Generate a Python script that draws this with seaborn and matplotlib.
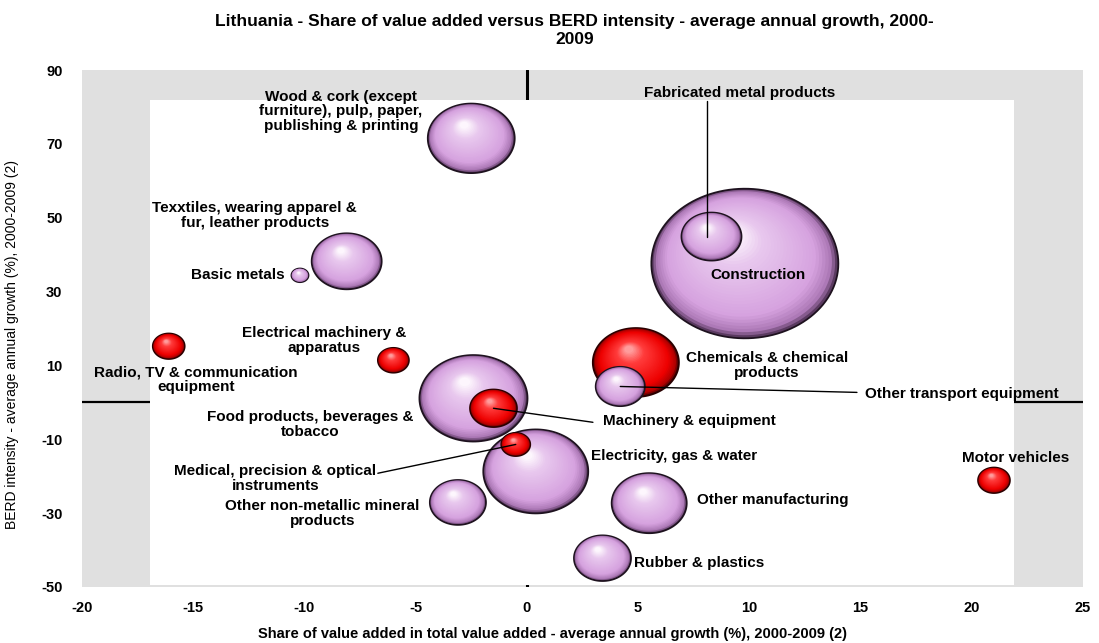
import numpy as np
import pandas as pd
import matplotlib.pyplot as plt
import seaborn as sns
from matplotlib.path import Path
from matplotlib.patches import Rectangle
from matplotlib.colors import to_rgb, to_hex

# data
sectors = ["Construction", "Food products, beverages & tobacco", "Electricity, gas & water",
           "Wood & cork (except furniture), pulp, paper, publishing & printing",
           "Chemicals & chemical products", "Other manufacturing",
           "Texxtiles, wearing apparel & fur, leather products", "Fabricated metal products",
           "Rubber & plastics", "Other non-metallic mineral products",
           "Other transport equipment", "Machinery & equipment",
           "Radio, TV & communication equipment", "Motor vehicles",
           "Electrical machinery & apparatus", "Medical, precision & optical instruments",
           "Basic metals"]
va_growth = [9.8, -2.4, 0.4, -2.5, 4.9, 5.5, -8.1, 8.3, 3.4, -3.1, 4.2, -1.5, -16.1, 21.0, -6.0, -0.5, -10.2]
berd_growth = [37.6, 1.1, -18.7, 71.5, 10.8, -27.3, 38.2, 44.9, -42.2, -27.1, 4.3, -1.6, 15.2, -21.1, 11.4, -11.4, 34.4]
bubble_size = [100, 33.4, 31.5, 21.6, 21.2, 16.1, 14.0, 10.3, 9.3, 9.0, 6.9, 6.3, 2.9, 2.9, 2.75, 2.4, 0.83]
group = ["other", "other", "other", "other", "tech", "other", "other", "other", "other", "other",
         "other", "tech", "tech", "tech", "tech", "tech", "other"]

df = pd.DataFrame({"sector": sectors, "x": va_growth, "y": berd_growth,
                   "v": bubble_size, "group": group})

sns.set_style("white")
plt.rcParams['font.family'] = ['Liberation Sans', 'DejaVu Sans']
plt.rcParams['text.color'] = 'black'
plt.rcParams['axes.labelcolor'] = 'black'
plt.rcParams['xtick.color'] = 'black'
plt.rcParams['ytick.color'] = 'black'
plt.rcParams['axes.unicode_minus'] = False

fig = plt.figure(figsize=(10.99, 6.43), dpi=100)
ax = fig.add_axes([0.0746, 0.0871, 0.9108, 0.804])
ax.set_xlim(-20, 25)
ax.set_ylim(-50, 90)
ax.set_facecolor("#e0e0e0")
for s in ax.spines.values():
    s.set_visible(False)

# axis lines sit behind the white plot area
ax.axhline(0, color="black", lw=1.6, zorder=0.3)
ax.axvline(0, color="black", lw=2.2, zorder=0.3)
ax.add_patch(Rectangle((-16.95, -49.5), 38.85, 131.3, facecolor="white", edgecolor="none", zorder=0.6))

# bubble shading: stacked ellipses from rim to highlight
S_MAX = 18128
ASPECT = 1.25
theta = np.linspace(0, 2 * np.pi, 120)
ellipse = Path(np.column_stack([np.cos(theta), np.sin(theta) / ASPECT]), closed=True)

p0 = ax.transData.transform((0, 0))
px_x = ax.transData.transform((1, 0))[0] - p0[0]
px_y = ax.transData.transform((0, 1))[1] - p0[1]

schemes = {
    "other": dict(stops=[0, 0.06, 0.22, 0.75, 1.0],
                  cols=["#5a3a60", "#ac78b6", "#d6a2df", "#e8c8ee", "#fdf6fd"], edge="#1e121f"),
    "tech": dict(stops=[0, 0.06, 0.22, 0.75, 1.0],
                 cols=["#4a0000", "#b00000", "#ee0000", "#ff3c3c", "#ff9c9c"], edge="#2a0000"),
}


def ramp(sc, t):
    rgb = np.array([to_rgb(c) for c in sc["cols"]])
    return to_hex([np.interp(t, sc["stops"], rgb[:, i]) for i in range(3)])


n_layers = 32
hl = (-0.18, 0.42)
rows = []
for _, b in df.sort_values("v", ascending=False).iterrows():
    sc = schemes[b.group]
    w_px = np.sqrt(S_MAX * b.v / 100) * 100 / 72
    a = w_px / 2 / px_x
    bb = w_px / ASPECT / 2 / px_y
    for k in range(n_layers):
        t = k / (n_layers - 1)
        r = 1 - 0.9 * t
        rows.append(dict(x=b.x + (1 - r) * hl[0] * a, y=b.y + (1 - r) * hl[1] * bb,
                         size=b.v * r * r, col=ramp(sc, t),
                         ec=sc["edge"] if k == 0 else "none", lw=1.3 if k == 0 else 0.0))
layers = pd.DataFrame(rows)

sns.scatterplot(data=layers, x="x", y="y", size="size", sizes=(0, S_MAX), size_norm=(0, 100),
                hue="col", palette={c: c for c in layers.col.unique()},
                marker=ellipse, edgecolor=list(layers.ec), linewidths=list(layers.lw),
                legend=False, ax=ax, zorder=2)

# labels
lab = {
    "Construction": (10.39, 34.4, "center"),
    "Food products, beverages & tobacco": (-9.76, -6.0, "center"),
    "Electricity, gas & water": (2.88, -14.4, "left"),
    "Wood & cork (except furniture), pulp, paper, publishing & printing": (-8.36, 78.8, "center"),
    "Chemicals & chemical products": (10.79, 10.0, "center"),
    "Other manufacturing": (7.64, -26.5, "left"),
    "Texxtiles, wearing apparel & fur, leather products": (-12.23, 50.6, "center"),
    "Fabricated metal products": (9.58, 83.7, "center"),
    "Rubber & plastics": (4.81, -43.6, "left"),
    "Other non-metallic mineral products": (-9.2, -30.1, "center"),
    "Other transport equipment": (15.2, 2.2, "left"),
    "Machinery & equipment": (3.42, -5.1, "left"),
    "Radio, TV & communication equipment": (-14.88, 6.2, "center"),
    "Motor vehicles": (21.99, -15.2, "center"),
    "Electrical machinery & apparatus": (-9.13, 16.8, "center"),
    "Medical, precision & optical instruments": (-11.3, -20.6, "center"),
    "Basic metals": (-10.88, 34.4, "right"),
}
text = {
    "Food products, beverages & tobacco": "Food products, beverages &\ntobacco",
    "Wood & cork (except furniture), pulp, paper, publishing & printing":
        "Wood & cork (except\nfurniture), pulp, paper,\npublishing & printing",
    "Chemicals & chemical products": "Chemicals & chemical\nproducts",
    "Texxtiles, wearing apparel & fur, leather products": "Texxtiles, wearing apparel &\nfur, leather products",
    "Other non-metallic mineral products": "Other non-metallic mineral\nproducts",
    "Radio, TV & communication equipment": "Radio, TV & communication\nequipment",
    "Electrical machinery & apparatus": "Electrical machinery &\napparatus",
    "Medical, precision & optical instruments": "Medical, precision & optical\ninstruments",
}
for name, (lx, ly, ha) in lab.items():
    ax.text(lx, ly, text.get(name, name), ha=ha, va="center", multialignment="center",
            fontsize=11, fontweight="bold", zorder=5, linespacing=1.05)

# leader lines from bubble centres to their labels
leaders = {
    "Fabricated metal products": (8.1, 81.5),
    "Machinery & equipment": (2.97, -5.4),
    "Medical, precision & optical instruments": (-6.7, -19.2),
    "Other transport equipment": (14.84, 2.7),
}
for name, (ex, ey) in leaders.items():
    b = df[df.sector == name].iloc[0]
    sx = 8.1 if name == "Fabricated metal products" else b.x
    ax.plot([sx, ex], [b.y, ey], color="black", lw=1.0, zorder=4)

ax.set_xticks(np.arange(-20, 26, 5))
ax.set_yticks(np.arange(-50, 91, 20))
ax.tick_params(axis="both", length=0, labelsize=10.5)
ax.tick_params(axis="y", pad=14)
ax.tick_params(axis="x", pad=10)
for t in ax.get_xticklabels() + ax.get_yticklabels():
    t.set_fontweight("bold")

narrow = ['Liberation Sans Narrow', 'Liberation Sans', 'DejaVu Sans']
ax.set_xlabel("Share of value added in total value added - average annual growth (%), 2000-2009 (2)",
              fontsize=10.5, fontweight="bold", family=narrow)
ax.xaxis.set_label_coords(0.47, -0.077)
ax.set_ylabel("BERD intensity - average annual growth (%), 2000-2009 (2)",
              fontsize=10, family=narrow)
ax.yaxis.set_label_coords(-0.063, 0.47)

fig.text(0.523, 0.978, "Lithuania - Share of value added versus BERD intensity - average annual growth, 2000-\n2009",
         ha="center", va="top", fontsize=12.5, fontweight="bold", multialignment="center")

fig.savefig("out.png", dpi=100)
